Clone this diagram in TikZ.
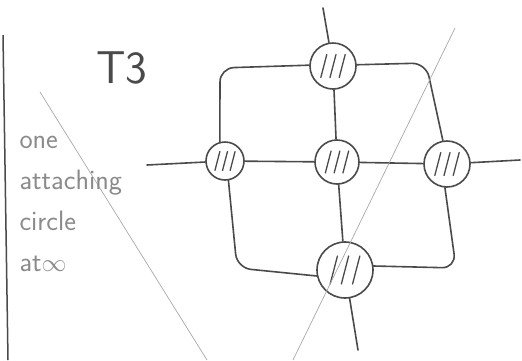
\documentclass[tikz,border=0pt]{standalone}
\usepackage{amsmath}
\usepackage{amssymb}
\usepackage{tikz}
\usetikzlibrary{shapes, arrows}
\usepackage{xcolor}

\definecolor{pen}{HTML}{4A4A4A}
\definecolor{pencil}{HTML}{8A8A8A}
\definecolor{faint}{HTML}{A8A8A8}

\begin{document}
\begin{tikzpicture}[x=1pt, y=-1pt,
    ball/.style={circle, draw=pen, line width=1.6pt, inner sep=0pt},
    wire/.style={draw=pen, line width=1.6pt, line cap=round},
    hatch/.style={draw=pen, line width=1.3pt, line cap=round},
    guide/.style={draw=faint, line width=0.7pt}]
    \useasboundingbox (0,0) rectangle (522,360);

    % Define nodes
    \node (top) [ball, minimum size=46pt] at (333,66) {};
    \node (left) [ball, minimum size=38pt] at (225,161) {};
    \node (mid) [ball, minimum size=44pt] at (337,162) {};
    \node (right) [ball, minimum size=46pt] at (447,164) {};
    \node (bot) [ball, minimum size=56pt] at (345,270) {};

    \coordinate (topend) at (323,8);
    \coordinate (leftend) at (147,165);
    \coordinate (rightend) at (520,160);
    \coordinate (botend) at (358,350);

    % hatching inside the balls
    \foreach \n/\r in {top/23, left/19, mid/22, right/23, bot/28} {
        \begin{scope}[shift={(\n)}]
            \foreach \k in {-1,0,1}
                \draw[hatch] (\k*0.4*\r-0.13*\r, 0.5*\r) -- (\k*0.4*\r+0.13*\r, -0.5*\r);
        \end{scope}
    }

    % Draw edges
    \draw[wire] (left) -- (mid);
    \draw[wire] (mid) -- (right);
    \draw[wire] (top) -- (mid);
    \draw[wire] (mid) -- (bot);
    \draw[wire] (topend) -- (top);
    \draw[wire] (leftend) -- (left);
    \draw[wire] (right) -- (rightend);
    \draw[wire] (bot) -- (botend);

    % outer loop
    \draw[wire, rounded corners=14pt] (top.178) -- (220,68) -- (left.105);
    \draw[wire, rounded corners=14pt] (left.-80) -- (237,268) -- (bot.192);
    \draw[wire, rounded corners=14pt] (bot.8) -- (456,268) -- (right.-95);
    \draw[wire, rounded corners=14pt] (right.100) -- (426,63) -- (top.3);

    % thin pencil lines
    \coordinate (g1a) at (40,92);
    \coordinate (g1b) at (207,360);
    \coordinate (g2a) at (455,28);
    \coordinate (g2b) at (293,360);
    \draw[guide] (g1a) -- (g1b);
    \draw[guide] (g2a) -- (g2b);

    % margin line
    \coordinate (bar1) at (3,35);
    \coordinate (bar2) at (8,360);
    \draw[pen, line width=1.5pt] (bar1) -- (bar2);

    % labels
    \node (title) [text=pen, font=\sffamily\fontsize{46}{46}\selectfont] at (122,68) {T3};
    \node (note) [text=pencil, anchor=west, align=left,
        font=\sffamily\fontsize{28}{41}\selectfont] at (16,204)
        {one\\attaching\\circle\\at$\infty$};
\end{tikzpicture}
\end{document}
